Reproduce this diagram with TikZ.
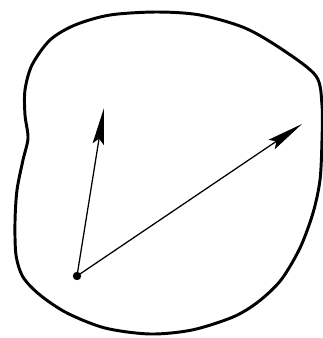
\documentclass[tikz,border=0pt]{standalone}
\usepackage{tikz}
\usetikzlibrary{arrows.meta}

\begin{document}
\begin{tikzpicture}[x=0.025cm, y=-0.025cm, >={Stealth[length=26pt, width=8pt, inset=4pt]}]
\useasboundingbox (0,0) rectangle (323,338);

% === Region (closed curve) ===
\draw[line width=2.1pt, line join=round]
  plot[smooth cycle, tension=0.5] coordinates {
    (157,12) (200,15) (245,28) (283,50) (316,76) (322,105) (322,140)
    (320,180) (313,213) (300,248) (281,280) (258,302) (233,317)
    (192,330) (150,334) (105,328) (67,313) (40,295) (23,277) (16,255)
    (15,222) (17,190) (23,160) (28,138) (25,115) (25,90) (32,65)
    (50,40) (75,25) (110,15)};

% Point and tips
\coordinate (o) at (77,276);
\coordinate (a) at (104,108);
\coordinate (b) at (302,124);
\fill (o) circle (4.2);

% === Vectors ===
\draw[->, line width=0.9pt] (o) -- (a);
\draw[->, line width=0.9pt] (o) -- (b);

\end{tikzpicture}
\end{document}
